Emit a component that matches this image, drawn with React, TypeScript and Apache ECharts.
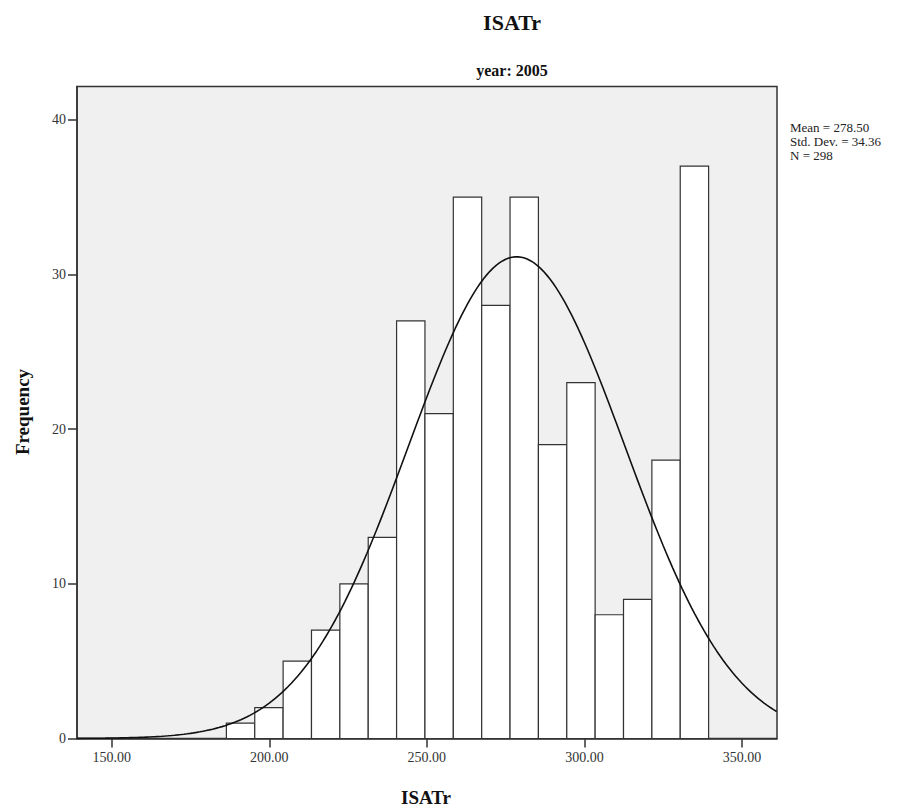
import React, { useEffect, useRef } from "react";
import * as echarts from "echarts";

const binStart = 186.4;
const binWidth = 9;
const counts = [1, 2, 5, 7, 10, 13, 27, 21, 35, 28, 35, 19, 23, 8, 9, 18, 37];
const xTicks = [150, 200, 250, 300, 350];
const yTicks = [0, 10, 20, 30, 40];
const mean = 278.5;
const sd = 34.36;
const n = 298;
const statLines = ["Mean = 278.50", "Std. Dev. = 34.36", "N = 298"];
const xMin = 139.0;
const xMax = 361.1;
const yMax = 42.15;

const FONT = "'Liberation Serif', 'Times New Roman', serif";

export default function App() {
  const ref = useRef<HTMLDivElement>(null);
  useEffect(() => {
    if (!ref.current) return;
    const chart = echarts.init(ref.current, undefined, { renderer: "svg" });
    const bins = counts.map((c, i) => [binStart + i * binWidth, binStart + (i + 1) * binWidth, c]);
    const curve: number[][] = [];
    for (let x = xMin; x <= xMax + 0.001; x += 1) {
      const z = (x - mean) / sd;
      curve.push([x, (n * binWidth * Math.exp(-0.5 * z * z)) / (sd * Math.sqrt(2 * Math.PI))]);
    }
    chart.setOption({
      animation: false,
      backgroundColor: "#fff",
      grid: {
        left: 77,
        top: 86.5,
        width: 700,
        height: 652,
        show: true,
        backgroundColor: "#f0f0f0",
        borderColor: "#333",
        borderWidth: 1.5,
      },
      xAxis: {
        type: "value",
        min: xMin,
        max: xMax,
        splitLine: { show: false },
        axisLine: { show: true, onZero: false, lineStyle: { color: "#333", width: 1.5 } },
        axisTick: { show: true, inside: false, length: 9, customValues: xTicks, lineStyle: { color: "#333", width: 1.5 } },
        axisLabel: {
          customValues: xTicks,
          formatter: (v: number) => v.toFixed(2),
          fontFamily: FONT,
          fontSize: 14,
          color: "#333",
          margin: 12,
        },
      },
      yAxis: {
        type: "value",
        min: 0,
        max: yMax,
        splitLine: { show: false },
        axisLine: { show: true, lineStyle: { color: "#333", width: 1.5 } },
        axisTick: { show: true, inside: false, length: 9, customValues: yTicks, lineStyle: { color: "#333", width: 1.5 } },
        axisLabel: {
          customValues: yTicks,
          fontFamily: FONT,
          fontSize: 14,
          color: "#333",
          margin: 11,
        },
      },
      series: [
        {
          type: "custom",
          data: bins,
          encode: { x: [0, 1], y: 2 },
          renderItem: (params: any, api: any) => {
            const p0 = api.coord([api.value(0), api.value(2)]);
            const p1 = api.coord([api.value(1), 0]);
            return {
              type: "rect",
              shape: { x: p0[0], y: p0[1], width: p1[0] - p0[0], height: p1[1] - p0[1] },
              style: { fill: "#fff", stroke: "#333", lineWidth: 1.2 },
            };
          },
          z: 2,
        },
        {
          type: "line",
          data: curve,
          showSymbol: false,
          symbol: "none",
          smooth: false,
          clip: true,
          lineStyle: { color: "#111", width: 1.6 },
          z: 3,
        },
      ],
      graphic: [
        {
          type: "text",
          x: 512,
          y: 22,
          style: { text: "ISATr", fontFamily: FONT, fontWeight: "bold", fontSize: 22, fill: "#111", textAlign: "center", textVerticalAlign: "middle" },
        },
        {
          type: "text",
          x: 512,
          y: 70,
          style: { text: "year: 2005", fontFamily: FONT, fontWeight: "bold", fontSize: 16, fill: "#111", textAlign: "center", textVerticalAlign: "middle" },
        },
        ...statLines.map((t, i) => ({
          type: "text",
          x: 790,
          y: 127 + i * 14,
          style: { text: t, fontFamily: FONT, fontSize: 13, lineHeight: 13, fill: "#222", textAlign: "left", textVerticalAlign: "middle" },
        })),
        {
          type: "text",
          x: 426,
          y: 797,
          style: { text: "ISATr", fontFamily: FONT, fontWeight: "bold", fontSize: 19, fill: "#111", textAlign: "center", textVerticalAlign: "middle" },
        },
        {
          type: "text",
          x: 22,
          y: 412,
          rotation: Math.PI / 2,
          style: { text: "Frequency", fontFamily: FONT, fontWeight: "bold", fontSize: 19, fill: "#111", textAlign: "center", textVerticalAlign: "middle" },
        },
      ],
    });
    return () => chart.dispose();
  }, []);
  return <div ref={ref} style={{ position: "fixed", left: 0, top: 0, width: 923, height: 810 }} />;
}
